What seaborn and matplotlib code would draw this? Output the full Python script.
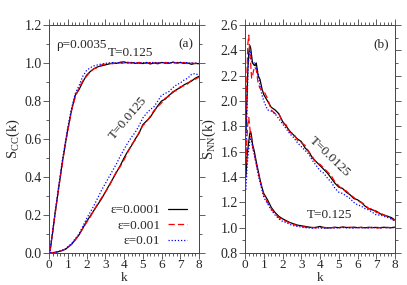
import numpy as np
import pandas as pd
import matplotlib
matplotlib.use("Agg")
import matplotlib.pyplot as plt
from matplotlib.ticker import MultipleLocator
import seaborn as sns

# shared k grid
k = [0.05, 0.1, 0.15, 0.2, 0.25, 0.3, 0.35, 0.4, 0.5, 0.6, 0.7, 0.8, 0.9, 1.0,
     1.2, 1.4, 1.6, 1.8, 2.0, 2.2, 2.4, 2.6, 2.8, 3.0, 3.2, 3.4, 3.6, 3.8, 4.0,
     4.2, 4.4, 4.6, 4.8, 5.0, 5.2, 5.4, 5.6, 5.8, 6.0, 6.2, 6.4, 6.6, 6.8, 7.0,
     7.2, 7.4, 7.6, 7.8, 8.0]

eps_labels = ["ε=0.0001", "ε=0.001", "ε=0.01"]

# panel (a) S_CC(k), T=0.125
scc_hot_1 = [0.01, 0.04, 0.08, 0.11, 0.15, 0.19, 0.23, 0.26, 0.33, 0.40, 0.47, 0.53, 0.59, 0.65,
             0.75, 0.83, 0.86, 0.90, 0.935, 0.955, 0.97, 0.98, 0.985, 0.99, 0.995, 1.0, 0.998, 1.004, 1.006,
             1.0, 1.003, 0.998, 1.0, 0.997, 1.002, 0.995, 1.0, 0.996, 1.003, 1.0, 0.998, 1.004, 1.0, 1.002,
             0.998, 1.0, 0.993, 0.998, 0.996]
scc_hot_2 = [0.01, 0.04, 0.08, 0.12, 0.15, 0.19, 0.22, 0.26, 0.33, 0.40, 0.46, 0.53, 0.59, 0.64,
             0.75, 0.82, 0.87, 0.905, 0.93, 0.955, 0.97, 0.975, 0.99, 0.995, 0.998, 0.996, 1.002, 1.0, 0.998,
             1.004, 1.0, 0.997, 1.003, 1.0, 0.998, 1.002, 0.999, 1.001, 0.997, 1.003, 1.0, 1.005, 1.0, 0.998,
             1.003, 0.996, 1.0, 0.997, 0.999]
scc_hot_3 = [0.01, 0.05, 0.08, 0.12, 0.16, 0.19, 0.23, 0.27, 0.34, 0.41, 0.48, 0.54, 0.60, 0.66,
             0.76, 0.84, 0.88, 0.93, 0.96, 0.975, 0.985, 0.99, 0.995, 0.998, 1.0, 1.002, 0.999, 1.003, 1.0,
             1.002, 1.0, 1.003, 0.998, 1.001, 1.003, 1.0, 1.004, 1.0, 1.002, 0.999, 1.003, 1.0, 1.002, 1.004,
             1.0, 1.002, 0.998, 1.0, 0.998]

# panel (a) S_CC(k), T=0.0125
scc_cold_1 = [0.0, 0.0, 0.001, 0.002, 0.002, 0.003, 0.004, 0.005, 0.007, 0.01, 0.013, 0.017, 0.021, 0.03,
              0.045, 0.07, 0.095, 0.13, 0.165, 0.195, 0.225, 0.255, 0.285, 0.32, 0.355, 0.39, 0.425, 0.46, 0.50,
              0.535, 0.565, 0.60, 0.63, 0.675, 0.695, 0.715, 0.745, 0.775, 0.80, 0.81, 0.83, 0.845, 0.86, 0.87,
              0.885, 0.895, 0.905, 0.92, 0.93]
scc_cold_2 = [0.0, 0.0, 0.001, 0.002, 0.002, 0.003, 0.004, 0.005, 0.007, 0.01, 0.013, 0.017, 0.022, 0.03,
              0.046, 0.068, 0.097, 0.128, 0.16, 0.19, 0.225, 0.26, 0.29, 0.32, 0.35, 0.39, 0.43, 0.455, 0.49,
              0.53, 0.57, 0.595, 0.635, 0.67, 0.69, 0.72, 0.75, 0.77, 0.79, 0.815, 0.825, 0.85, 0.855, 0.875,
              0.88, 0.89, 0.91, 0.915, 0.925]
scc_cold_3 = [0.0, 0.0, 0.001, 0.002, 0.002, 0.003, 0.004, 0.005, 0.007, 0.01, 0.014, 0.018, 0.023, 0.032,
              0.05, 0.075, 0.10, 0.14, 0.18, 0.215, 0.25, 0.29, 0.33, 0.365, 0.40, 0.435, 0.47, 0.51, 0.545,
              0.58, 0.61, 0.635, 0.67, 0.71, 0.735, 0.755, 0.77, 0.80, 0.83, 0.84, 0.85, 0.87, 0.885, 0.895,
              0.91, 0.92, 0.94, 0.945, 0.935]

# panel (b) S_NN(k), T=0.0125
snn_cold_1 = [1.75, 2.0, 2.25, 2.38, 2.44, 2.42, 2.36, 2.3, 2.28, 2.3, 2.2, 2.17, 2.1, 2.05,
              2.0, 1.95, 1.93, 1.9, 1.84, 1.8, 1.76, 1.73, 1.7, 1.68, 1.63, 1.6, 1.55, 1.52, 1.49,
              1.46, 1.43, 1.39, 1.35, 1.32, 1.31, 1.28, 1.26, 1.23, 1.22, 1.2, 1.17, 1.15, 1.14, 1.13,
              1.11, 1.1, 1.09, 1.08, 1.06]
snn_cold_2 = [1.85, 2.2, 2.45, 2.52, 2.4, 2.3, 2.18, 2.2, 2.27, 2.25, 2.14, 2.1, 2.09, 2.08,
              2.02, 1.93, 1.9, 1.9, 1.83, 1.81, 1.75, 1.74, 1.69, 1.67, 1.65, 1.6, 1.56, 1.51, 1.5,
              1.47, 1.44, 1.41, 1.36, 1.33, 1.3, 1.29, 1.26, 1.24, 1.21, 1.2, 1.18, 1.15, 1.15, 1.12,
              1.12, 1.1, 1.09, 1.07, 1.06]
snn_cold_3 = [1.5, 1.9, 2.2, 2.35, 2.4, 2.38, 2.32, 2.3, 2.3, 2.26, 2.22, 2.12, 2.05, 2.0,
              1.93, 1.92, 1.9, 1.86, 1.82, 1.78, 1.74, 1.71, 1.67, 1.64, 1.61, 1.58, 1.53, 1.49, 1.45,
              1.43, 1.39, 1.36, 1.31, 1.28, 1.27, 1.25, 1.23, 1.2, 1.18, 1.17, 1.15, 1.14, 1.12, 1.1,
              1.1, 1.09, 1.08, 1.07, 1.05]

# panel (b) S_NN(k), T=0.125
snn_hot_1 = [1.4, 1.55, 1.62, 1.68, 1.74, 1.76, 1.72, 1.66, 1.6, 1.52, 1.45, 1.38, 1.32, 1.27,
             1.22, 1.16, 1.12, 1.09, 1.07, 1.055, 1.04, 1.03, 1.02, 1.015, 1.01, 1.005, 1.0, 1.003, 1.01,
             1.0, 0.997, 1.0, 1.003, 1.0, 1.005, 1.002, 1.0, 1.004, 1.0, 1.002, 0.999, 1.003, 1.0, 1.002,
             1.0, 1.003, 1.001, 1.0, 1.004]
snn_hot_2 = [1.5, 1.7, 1.82, 1.87, 1.8, 1.72, 1.7, 1.64, 1.58, 1.5, 1.44, 1.37, 1.31, 1.26,
             1.2, 1.15, 1.11, 1.08, 1.06, 1.05, 1.035, 1.025, 1.015, 1.01, 1.005, 1.0, 1.002, 0.998, 1.0,
             1.003, 0.999, 1.0, 1.002, 0.998, 1.003, 1.0, 1.004, 0.998, 1.0, 1.003, 0.997, 1.0, 1.002, 0.998,
             1.0, 0.996, 1.002, 1.0, 1.002]
snn_hot_3 = [1.3, 1.45, 1.55, 1.62, 1.68, 1.7, 1.68, 1.64, 1.57, 1.5, 1.42, 1.36, 1.3, 1.24,
             1.19, 1.14, 1.1, 1.07, 1.05, 1.04, 1.025, 1.015, 1.01, 1.005, 1.0, 0.998, 0.996, 1.0, 0.997,
             0.995, 1.0, 0.998, 0.996, 1.0, 1.002, 0.998, 1.0, 0.997, 1.001, 0.999, 1.0, 0.998, 1.002, 1.0,
             0.999, 1.001, 1.0, 0.998, 1.003]

colors = ["black", "red", "blue"]
dashes = ["-", (0, (5, 2.5)), (0, (1, 1.5))]

sns.set_style("ticks")
plt.rcParams["font.family"] = ["Liberation Serif", "DejaVu Serif"]
plt.rcParams["mathtext.fontset"] = "custom"
plt.rcParams["mathtext.rm"] = "Liberation Serif"
plt.rcParams["mathtext.it"] = "Liberation Serif:italic"

fig = plt.figure(figsize=(4.07, 2.85), dpi=100)
ax1 = fig.add_axes([0.1204, 0.1123, 0.3686, 0.8])
ax2 = fig.add_axes([0.6020, 0.1123, 0.3686, 0.8])

def draw(ax, curves, with_label):
    for i, vals in enumerate(curves):
        sns.lineplot(x=k, y=vals, ax=ax, color=colors[i], linestyle=dashes[i], lw=0.9,
                     sort=False, errorbar=None, label=eps_labels[i] if with_label else None)

draw(ax1, [scc_hot_1, scc_hot_2, scc_hot_3], True)
draw(ax1, [scc_cold_1, scc_cold_2, scc_cold_3], False)
draw(ax2, [snn_cold_1, snn_cold_2, snn_cold_3], False)
draw(ax2, [snn_hot_1, snn_hot_2, snn_hot_3], False)

for ax in (ax1, ax2):
    ax.set_xlim(0, 8)
    ax.xaxis.set_major_locator(MultipleLocator(1))
    ax.xaxis.set_minor_locator(MultipleLocator(0.2))
    ax.yaxis.set_minor_locator(MultipleLocator(0.1))
    ax.tick_params(which="both", direction="out", top=True, right=True, labelsize=10,
                   width=0.6, color="#444444", pad=1)
    ax.tick_params(axis="x", pad=0.3, labelsize=9.5)
    ax.tick_params(which="major", length=4)
    ax.tick_params(which="minor", length=2.3)
    for s in ax.spines.values():
        s.set_linewidth(0.7)
        s.set_color("#444444")
    ax.set_xlabel("k", fontsize=9.5)
    ax.xaxis.set_label_coords(0.5, -0.083)

ax1.set_ylim(0, 1.2)
ax1.set_yticks(np.arange(0, 1.21, 0.2))
ax1.set_yticklabels(["%.1f" % v for v in np.arange(0, 1.21, 0.2)])
ax1.set_ylabel("S$_{\\rm CC}$(k)", fontsize=10.5, labelpad=2)

ax2.set_ylim(0.8, 2.6)
ax2.set_yticks(np.arange(0.8, 2.61, 0.2))
ax2.set_yticklabels(["%.1f" % v for v in np.arange(0.8, 2.61, 0.2)])
ax2.set_ylabel("S$_{\\rm NN}$(k)", fontsize=10.5, labelpad=2)

ax1.text(0.05, 0.94, "ρ=0.0035", transform=ax1.transAxes, fontsize=9.5, va="top")
ax1.text(0.96, 0.94, "(a)", transform=ax1.transAxes, fontsize=9.5, va="top", ha="right")
ax1.text(3.15, 1.02, "T=0.125", fontsize=9.5, va="bottom")
ax1.text(4.25, 0.71, "T=0.0125", fontsize=9.5, rotation=50, ha="center", va="center")
ax2.text(0.96, 0.94, "(b)", transform=ax2.transAxes, fontsize=9.5, va="top", ha="right")
ax2.text(4.5, 1.56, "T=0.0125", fontsize=9.5, rotation=-44, ha="center", va="center")
ax2.text(3.3, 1.05, "T=0.125", fontsize=9.5, va="bottom")

ax1.legend(loc="lower right", bbox_to_anchor=(0.97, -0.01), frameon=False, markerfirst=False,
           fontsize=9.5, handlelength=1.4, labelspacing=0.25, handletextpad=0.6, borderaxespad=0.2)

fig.savefig("out.png", dpi=100)
